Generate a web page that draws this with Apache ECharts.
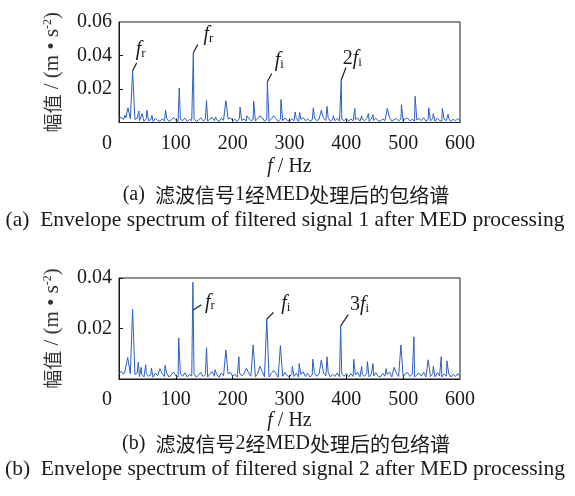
<!DOCTYPE html>
<html>
<head>
<meta charset="utf-8">
<script src="https://cdn.jsdelivr.net/npm/echarts@6/dist/echarts.min.js"></script>
<style>html,body{margin:0;padding:0;background:#fff;}#c{width:575px;height:496px;}</style>
</head>
<body>
<div id="c"></div>
<script>
// ---------- data ----------
const floorStep = 4; // Hz, sampling of the noise floor values below
// noise floor, signal 1 (x 0.001 m/s^2), f = 0,4,8,...,600
const floor1 = [
2.4,3.1,1.9,2.8,1.2,2.2,0.9,1.8,2.6,1.0,
1.9,0.7,2.3,1.1,1.7,0.6,2.5,1.3,0.8,2.1,
1.0,2.4,0.7,1.6,2.9,1.2,0.8,2.0,1.1,2.6,
0.7,1.8,1.2,2.3,0.6,1.5,2.7,1.0,1.9,0.8,
2.2,3.0,1.1,1.7,0.6,2.4,1.3,0.8,2.0,2.8,
1.0,1.9,0.7,2.5,1.2,2.1,0.8,2.6,1.1,1.7,
0.8,2.3,1.2,3.0,0.9,1.8,0.7,2.2,1.0,2.5,
0.6,1.9,1.1,2.7,1.3,0.8,2.1,1.0,2.4,0.7,
1.8,2.9,1.0,2.2,0.8,1.6,2.6,1.1,1.9,0.7,
2.4,1.2,2.8,0.8,1.9,1.0,2.5,0.8,2.0,1.1,
2.3,0.7,2.1,1.0,1.6,2.7,0.8,1.9,1.1,2.4,
0.7,2.0,1.2,2.6,1.0,0.8,2.2,1.1,1.8,2.9,
0.8,1.7,2.4,1.0,2.0,0.7,2.2,2.6,1.0,1.9,
0.8,1.6,2.4,1.1,2.8,0.8,1.9,1.0,2.2,0.7,
2.6,1.2,0.8,2.0,1.1,2.4,0.7,1.9,1.0,2.3,
0.9];
// spectral peaks, signal 1: [f (Hz), amplitude (m/s^2)]
const peaks1 = [
[10.6,.0043],[15.8,.0088],[23.9,.0308],[35,.0069],[40.5,.0053],[49,.0073],[58,.0043],[82,.0073],
[106,.0206],[130.8,.0416],[154,.0131],[170,.0033],[188,.0131],[213,.0092],[225,.0040],[237,.0127],
[248,.0040],[261,.0243],[272,.0040],[285,.0137],[310,.0063],[318,.0059],[342,.0088],[356,.0073],
[366,.0096],[377,.0040],[391,.0253],[415,.0084],[427,.0040],[439,.0053],[447,.0047],[472,.0084],
[497,.0106],[521,.0157],[545,.0088],[553,.0053],[569,.0084],[579,.0049]];
// noise floor, signal 2 (x 0.001 m/s^2)
const floor2 = [
2.2,3.0,1.9,2.6,1.2,2.1,0.9,1.8,2.4,1.0,
1.9,0.8,2.3,1.1,1.7,0.7,2.4,1.3,0.8,2.1,
1.0,2.3,0.8,1.6,2.8,1.2,0.8,2.0,1.1,2.5,
0.8,1.8,1.2,2.2,0.7,1.5,2.6,1.0,1.9,0.8,
2.1,2.9,1.1,1.7,0.7,2.3,1.3,0.8,2.0,2.7,
1.0,1.9,0.8,2.4,1.2,2.1,0.8,2.5,1.1,1.7,
0.8,2.2,1.2,2.9,0.9,1.8,0.8,2.2,1.0,2.4,
0.7,1.9,1.1,2.6,1.3,0.8,2.1,1.0,2.3,0.8,
1.8,2.8,1.0,2.2,0.8,1.6,2.5,1.1,1.9,0.8,
2.3,1.2,2.7,0.8,1.9,1.0,2.4,0.8,2.0,1.1,
2.2,0.8,2.1,1.0,1.6,2.6,0.8,1.9,1.1,2.3,
0.8,2.0,1.2,2.5,1.0,0.8,2.2,1.1,1.8,2.8,
0.8,1.7,2.3,1.0,2.0,0.8,2.2,2.5,1.0,1.9,
0.8,1.6,2.3,1.1,2.7,0.8,1.9,1.0,2.2,0.8,
2.5,1.2,0.8,2.0,1.1,2.3,0.8,1.9,1.0,2.2,
0.9];
const peaks2 = [
[10.6,.0033],[15.3,.0085],[23.9,.0276],[34,.0067],[39,.0046],[47,.0056],[57,.0043],[72,.0041],
[81,.0054],[105,.0163],[130,.0383],[154,.0124],[169,.0037],[188,.0115],[211,.0088],[224,.0043],
[236,.0135],[248,.0050],[260,.0237],[272,.0033],[284,.0132],[305,.0050],[317,.0061],[341,.0078],
[356,.0075],[366,.0088],[390,.0210],[413,.0078],[427,.0050],[437,.0069],[447,.0061],[470,.0041],
[484,.0046],[496,.0135],[519,.0167],[544,.0076],[553,.0050],[567,.0088],[577,.0072]];

const xTickLabels = [0,100,200,300,400,500,600];
const xTickMarks = [100,200,300,400,500];
const yTickLabels1 = [0.02,0.04,0.06];
const yTickLabels2 = [0.02,0.04];

const captions = [
  ['(a)  {c|滤波信号}1{c|经}MED{c|处理后的包络谱}', '(a)  Envelope spectrum of filtered signal 1 after MED processing'],
  ['(b)  {c|滤波信号}2{c|经}MED{c|处理后的包络谱}', '(b)  Envelope spectrum of filtered signal 2 after MED processing']
];
// annotations: grid, anchor [f, amplitude], label parts
const notes = [
  {g:0, at:[23.9,.0308], pre:'', sub:'r', line:[4,-8], lab:[8,-21]},
  {g:0, at:[130.8,.0416], pre:'', sub:'r', line:[4.4,-8.4], lab:[15,-18]},
  {g:0, at:[261,.0243], pre:'', sub:'i', line:[4.4,-8.3], lab:[12,-21]},
  {g:0, at:[391,.0253], pre:'2', sub:'i', line:[4.7,-12.6], lab:[11,-21]},
  {g:1, at:[130,.0272], pre:'', sub:'r', line:[8.6,-5.6], lab:[17,-8]},
  {g:1, at:[260,.0237], pre:'', sub:'i', line:[6.6,-6.7], lab:[19,-15]},
  {g:1, at:[390,.0210], pre:'3', sub:'i', line:[7.6,-11.4], lab:[19,-21]}
];

// ---------- build ----------
function buildLine(floor, peaks){
  const pts = [];
  floor.forEach((v,i)=>{
    const f = i*floorStep;
    if(!peaks.some(p=>Math.abs(p[0]-f)<1)) pts.push([f, v*0.001]);
  });
  peaks.forEach(p=>pts.push([p[0],p[1]]));
  pts.sort((a,b)=>a[0]-b[0]);
  return pts;
}

const SERIF = '"Liberation Serif","Times New Roman",serif';
const CJK = '"Noto Sans CJK SC",sans-serif';
const FS = 20;
const BLUE = '#2b60c2';
const INK = '#1a1a1a';

function xAxis(i){
  return {
    gridIndex:i, type:'value', min:0, max:600, interval:100,
    name:'{i|f} / Hz', nameLocation:'middle', nameGap: i===0?34:32,
    nameTextStyle:{fontFamily:SERIF,fontSize:FS,color:INK,rich:{i:{fontFamily:SERIF,fontStyle:'italic',fontSize:FS,color:INK}}},
    axisLine:{show:true,onZero:false,lineStyle:{color:INK,width:1}},
    axisTick:{show:true,inside:true,length:4,customValues:xTickMarks,lineStyle:{color:INK}},
    axisLabel:{customValues:xTickLabels,margin:11,fontFamily:SERIF,fontSize:FS,color:INK,
      formatter:v=>v===0?'{o|0}':String(v),
      rich:{o:{fontFamily:SERIF,fontSize:FS,color:INK,padding:[0,24,0,0]}}},
    splitLine:{show:false}
  };
}
function yAxis(i, min, max, labels){
  return {
    gridIndex:i, type:'value', min:min, max:max,
    name:'{c|幅值} / (m • s{s|-2})', nameLocation:'middle', nameRotate:90, nameGap:56,
    nameTextStyle:{fontFamily:SERIF,fontSize:21,color:'#333',
      rich:{c:{fontFamily:CJK,fontSize:19,color:'#333'},
            s:{fontFamily:SERIF,fontSize:12,color:'#333',verticalAlign:'top',lineHeight:12}}},
    axisLine:{show:true,onZero:false,lineStyle:{color:INK,width:1}},
    axisTick:{show:true,inside:true,length:4,customValues:[0.02,0.04],lineStyle:{color:INK}},
    axisLabel:{customValues:labels,margin:7,fontFamily:SERIF,fontSize:FS,color:INK,formatter:v=>v.toFixed(2)},
    splitLine:{show:false}
  };
}

const chart = echarts.init(document.getElementById('c'), null, {renderer:'canvas'});
const option = {
  animation:false,
  backgroundColor:'#fff',
  grid:[
    {left:119, top:22, width:341, height:100.5, show:true, borderColor:INK, borderWidth:1},
    {left:119, top:278, width:341, height:101, show:true, borderColor:INK, borderWidth:1}
  ],
  xAxis:[xAxis(0), xAxis(1)],
  yAxis:[yAxis(0,0,0.06,yTickLabels1), yAxis(1,0,0.04,yTickLabels2)],
  series:[
    {type:'line', xAxisIndex:0, yAxisIndex:0, data:buildLine(floor1,peaks1), showSymbol:false, symbol:'none', silent:true,
     lineStyle:{color:BLUE,width:1}},
    {type:'line', xAxisIndex:1, yAxisIndex:1, data:buildLine(floor2,peaks2), showSymbol:false, symbol:'none', silent:true,
     lineStyle:{color:BLUE,width:1}}
  ]
};
chart.setOption(option);

const graphics = [];
captions.forEach((c,k)=>{
  const y0 = k===0 ? 195 : 444;
  graphics.push({type:'text', x:286, y:y0, style:{text:c[0], fontFamily:SERIF, fontSize:20, fill:INK, textAlign:'center', textVerticalAlign:'middle',
    rich:{c:{fontFamily:CJK, fontSize:20, fill:INK}}}});
  graphics.push({type:'text', x:285, y:y0+25, style:{text:c[1], fontFamily:SERIF, fontSize:21.5, fill:INK, textAlign:'center', textVerticalAlign:'middle'}});
});
notes.forEach(n=>{
  const p = chart.convertToPixel({gridIndex:n.g}, n.at);
  graphics.push({type:'line', shape:{x1:p[0], y1:p[1], x2:p[0]+n.line[0], y2:p[1]+n.line[1]}, style:{stroke:INK, lineWidth:1.2}});
  const txt = (n.pre?'{n|'+n.pre+'}':'') + '{i|f}{s|'+n.sub+'}';
  graphics.push({type:'text', x:p[0]+n.lab[0], y:p[1]+n.lab[1], style:{
    text:txt, textAlign:'center', textVerticalAlign:'middle', fill:INK,
    rich:{
      n:{fontFamily:SERIF,fontSize:20,fill:INK,lineHeight:20},
      i:{fontFamily:SERIF,fontStyle:'italic',fontSize:20,fill:INK,lineHeight:20},
      s:{fontFamily:SERIF,fontSize:13,fill:INK,lineHeight:4,verticalAlign:'bottom'}
    }}});
});
chart.setOption({graphic:graphics});
</script>
</body>
</html>
